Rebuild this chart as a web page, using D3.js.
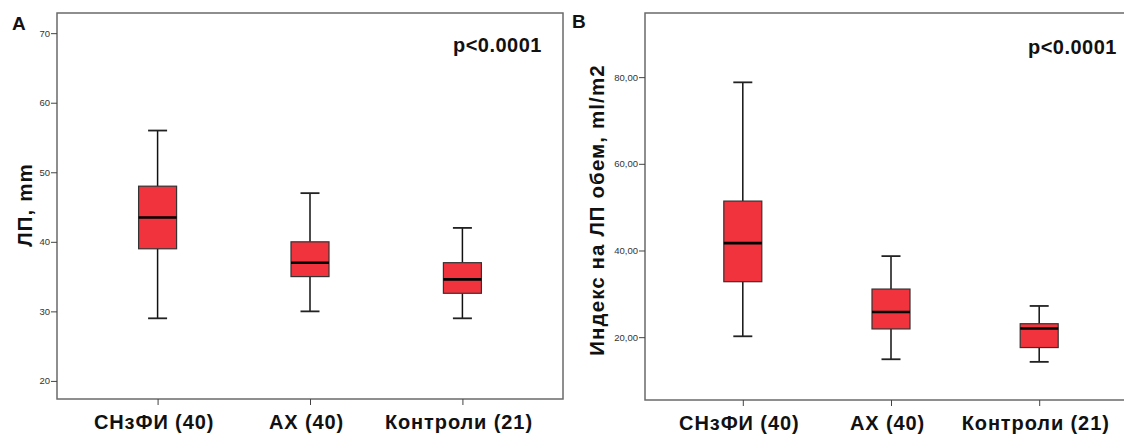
<!DOCTYPE html>
<html><head><meta charset="utf-8">
<script src="https://cdn.jsdelivr.net/npm/d3@7"></script>
<style>
html,body{margin:0;padding:0;background:#fff;}
svg{display:block;font-family:"Liberation Sans",Arial,sans-serif;}
</style></head>
<body>
<svg id="chart" width="1124" height="434"></svg>
<script>
// ---- data ----
const categories = ["СНзФИ (40)", "АХ (40)", "Контроли (21)"];
// Panel A: ЛП, mm  [whiskerLow, q1, median, q3, whiskerHigh]
const lpMin = [29, 30, 29];
const lpQ1 = [39, 35, 32.6];
const lpMedian = [43.5, 37, 34.6];
const lpQ3 = [48, 40, 37];
const lpMax = [56, 47, 42];
// Panel B: Индекс на ЛП обем, ml/m2
const idxMin = [20.2, 14.9, 14.3];
const idxQ1 = [32.8, 21.9, 17.6];
const idxMedian = [41.7, 25.8, 22.0];
const idxQ3 = [51.4, 31.1, 23.1];
const idxMax = [78.8, 38.7, 27.2];
const ticksA = [20, 30, 40, 50, 60, 70];
const ticksB = [20, 40, 60, 80];
const titleA = "ЛП, mm";
const titleB = "Индекс на ЛП обем, ml/m2";
const pText = "p<0.0001";

const svg = d3.select("#chart");
const FILL = "#f0333c";

function panel(opt) {
  const g = svg.append("g");
  const x = d3.scalePoint().domain(categories).range([opt.left, opt.right]).padding(0.66);
  const y = d3.scaleLinear().domain(opt.domain).range([opt.bottom, opt.top]);
  // frame
  g.append("rect").attr("x", opt.left).attr("y", opt.top)
    .attr("width", opt.right - opt.left).attr("height", opt.bottom - opt.top)
    .attr("fill", "none").attr("stroke", "#6a6a6a").attr("stroke-width", 1.5);
  // y axis
  const ya = g.append("g").attr("transform", `translate(${opt.left},0)`)
    .call(d3.axisLeft(y).tickValues(opt.ticks).tickSize(6).tickPadding(1).tickFormat(opt.fmt));
  ya.select(".domain").remove();
  ya.selectAll("line").attr("stroke", "#444");
  ya.selectAll("text").attr("font-size", 9.5).attr("fill", "#333");
  // x axis
  const xa = g.append("g").attr("transform", `translate(0,${opt.bottom})`)
    .call(d3.axisBottom(x).tickSize(6).tickPadding(10));
  xa.select(".domain").remove();
  xa.selectAll("line").attr("stroke", "#444");
  xa.selectAll("text").attr("font-size", 20).attr("font-weight", "bold").attr("fill", "#111")
    .attr("letter-spacing", 0.9).attr("dx", -4);
  // boxes
  const bw = 38, cw = 19;
  const rows = categories.map((c, i) => ({c, lo: opt.mn[i], q1: opt.q1[i], md: opt.md[i], q3: opt.q3[i], hi: opt.mx[i]}));
  const b = g.selectAll(".bx").data(rows).enter().append("g");
  b.append("line").attr("x1", d => x(d.c)).attr("x2", d => x(d.c))
    .attr("y1", d => y(d.hi)).attr("y2", d => y(d.q3)).attr("stroke", "#111").attr("stroke-width", 1.5);
  b.append("line").attr("x1", d => x(d.c)).attr("x2", d => x(d.c))
    .attr("y1", d => y(d.q1)).attr("y2", d => y(d.lo)).attr("stroke", "#111").attr("stroke-width", 1.5);
  b.append("line").attr("x1", d => x(d.c) - cw / 2).attr("x2", d => x(d.c) + cw / 2)
    .attr("y1", d => y(d.hi)).attr("y2", d => y(d.hi)).attr("stroke", "#222").attr("stroke-width", 1.8);
  b.append("line").attr("x1", d => x(d.c) - cw / 2).attr("x2", d => x(d.c) + cw / 2)
    .attr("y1", d => y(d.lo)).attr("y2", d => y(d.lo)).attr("stroke", "#222").attr("stroke-width", 1.8);
  b.append("rect").attr("x", d => x(d.c) - bw / 2).attr("width", bw)
    .attr("y", d => y(d.q3)).attr("height", d => y(d.q1) - y(d.q3))
    .attr("fill", FILL).attr("stroke", "#333").attr("stroke-width", 1.2);
  b.append("line").attr("x1", d => x(d.c) - bw / 2).attr("x2", d => x(d.c) + bw / 2)
    .attr("y1", d => y(d.md)).attr("y2", d => y(d.md)).attr("stroke", "#000").attr("stroke-width", 2.6);
  // y title
  g.append("text").attr("transform", `translate(${opt.titleX},${opt.titleY}) rotate(-90)`)
    .attr("text-anchor", "middle").attr("font-size", 20.5).attr("font-weight", "bold").attr("fill", "#111")
    .attr("letter-spacing", 1.1).text(opt.title);
  // panel letter
  g.append("text").attr("x", opt.letterX).attr("y", opt.letterY).attr("font-size", 19)
    .attr("font-weight", "bold").attr("fill", "#111").text(opt.letter);
  // p value
  g.append("text").attr("x", opt.pX).attr("y", opt.pY).attr("text-anchor", "end")
    .attr("font-size", 20).attr("font-weight", "bold").attr("fill", "#111")
    .attr("letter-spacing", 0.5).text(pText);
}

panel({left: 57, right: 563, top: 13, bottom: 399, domain: [17.4, 72.9], ticks: ticksA,
  fmt: d3.format("d"), mn: lpMin, q1: lpQ1, md: lpMedian, q3: lpQ3, mx: lpMax,
  title: titleA, titleX: 32, titleY: 205, letter: "A", letterX: 12, letterY: 30,
  pX: 542, pY: 52});
panel({left: 645, right: 1137, top: 13, bottom: 400, domain: [5.5, 94.8], ticks: ticksB,
  fmt: d => d3.format(".2f")(d).replace(".", ","), mn: idxMin, q1: idxQ1, md: idxMedian, q3: idxQ3, mx: idxMax,
  title: titleB, titleX: 604, titleY: 210, letter: "B", letterX: 572, letterY: 28,
  pX: 1117, pY: 54});
</script>
</body></html>
